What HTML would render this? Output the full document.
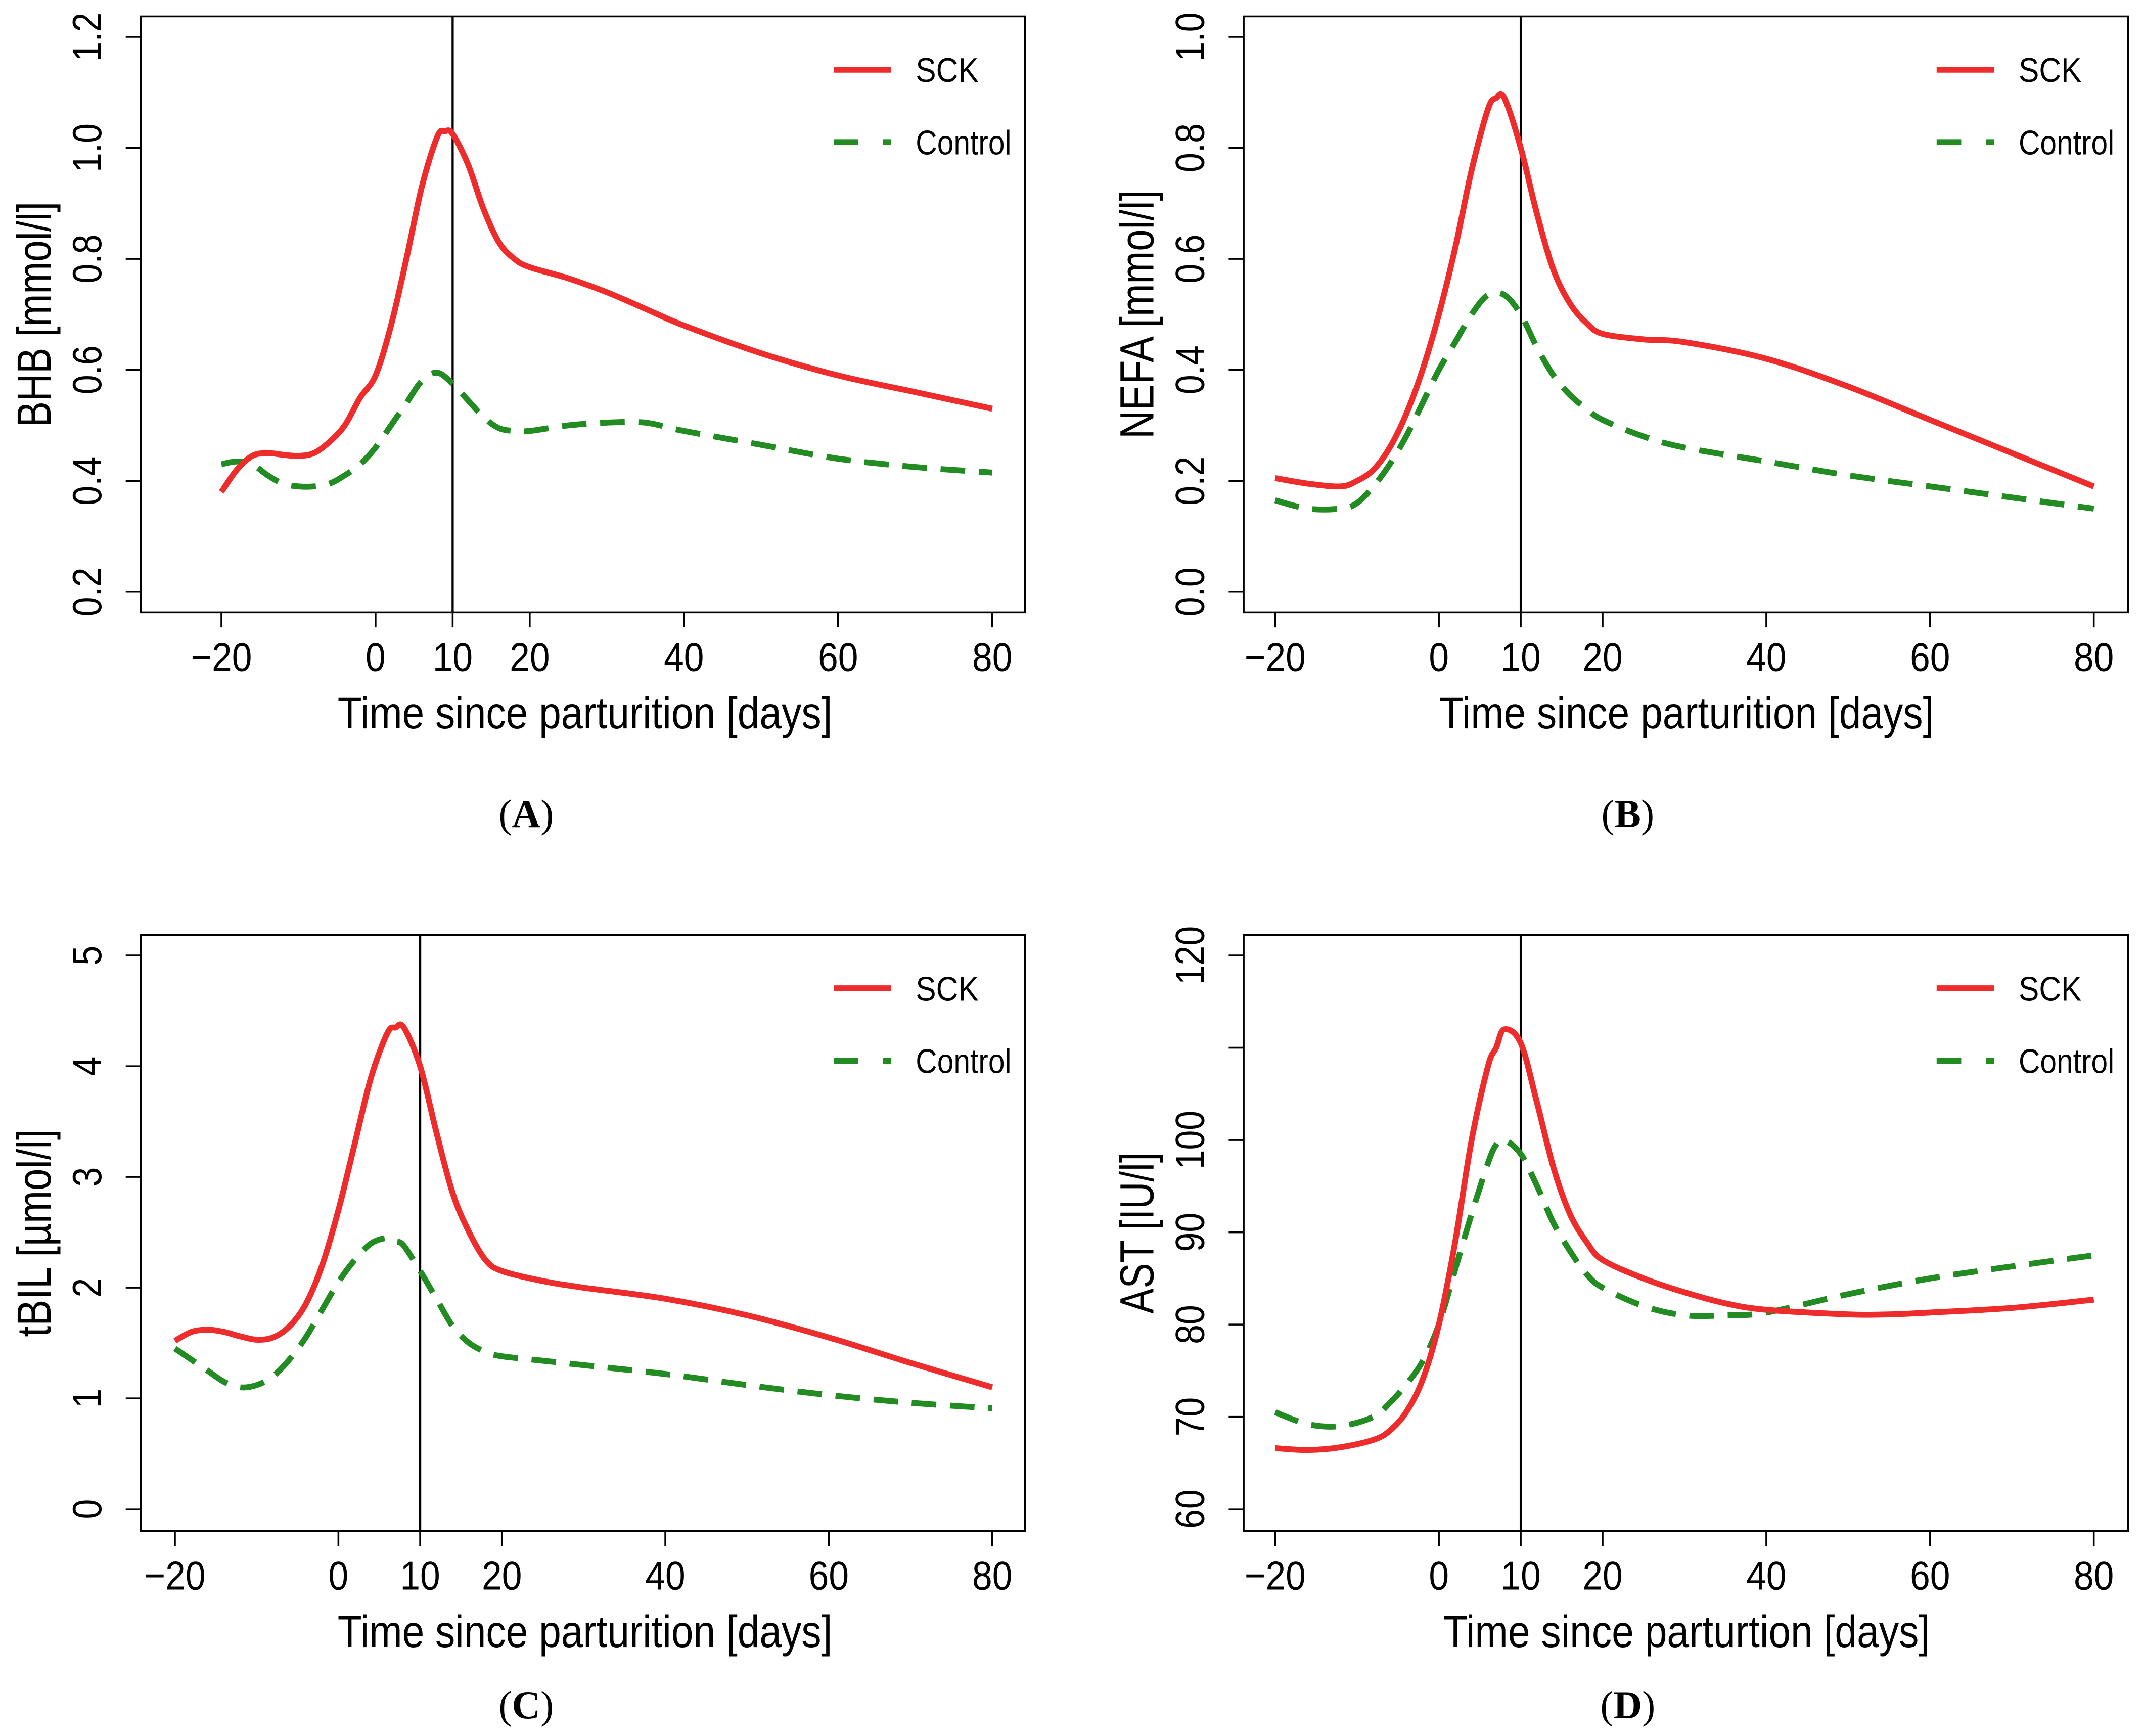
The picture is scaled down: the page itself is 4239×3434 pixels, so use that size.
<!DOCTYPE html>
<html><head><meta charset="utf-8"><style>html,body{margin:0;padding:0;background:#fff}svg{display:block}</style></head>
<body>
<svg id="fig" width="4239" height="3434" viewBox="0 0 1568 1270" preserveAspectRatio="none" xmlns="http://www.w3.org/2000/svg"></svg>
<script>
// Panel A: BHB
const aDaysS=[-20,-18,-16,-14,-12,-10,-8,-6,-4,-2,0,2,4,6,8,9,10,12,14,16,18,20,25,30,35,40,50,60,70,80];
const aSCK=[0.38,0.42,0.445,0.45,0.447,0.445,0.45,0.47,0.50,0.55,0.59,0.68,0.80,0.93,1.02,1.03,1.025,0.97,0.89,0.83,0.80,0.785,0.765,0.74,0.71,0.68,0.63,0.59,0.56,0.53];
const aDaysC=[-20,-18,-16,-14,-12,-10,-8,-6,-4,-2,0,2,4,6,8,10,12,14,16,18,20,25,30,35,40,50,60,70,80];
const aCtrl=[0.43,0.435,0.43,0.41,0.395,0.39,0.39,0.395,0.41,0.43,0.46,0.50,0.54,0.58,0.595,0.575,0.545,0.515,0.495,0.49,0.49,0.50,0.505,0.505,0.49,0.465,0.44,0.425,0.415];
const aYTicks=["0.2","0.4","0.6","0.8","1.0","1.2"];
// Panel B: NEFA
const bDaysS=[-20,-16,-12,-10,-8,-6,-4,-2,0,2,4,6,7,8,10,12,14,16,18,20,25,30,40,50,60,70,80];
const bSCK=[0.205,0.195,0.19,0.20,0.22,0.26,0.32,0.40,0.50,0.62,0.76,0.87,0.89,0.89,0.80,0.68,0.58,0.52,0.485,0.465,0.455,0.45,0.42,0.37,0.31,0.25,0.19];
const bDaysC=[-20,-16,-12,-10,-8,-6,-4,-2,0,2,4,6,8,10,12,14,16,18,20,25,30,40,50,60,70,80];
const bCtrl=[0.165,0.15,0.15,0.16,0.19,0.23,0.28,0.34,0.40,0.45,0.50,0.535,0.535,0.50,0.44,0.39,0.355,0.33,0.31,0.28,0.26,0.235,0.21,0.19,0.17,0.15];
const bYTicks=["0.0","0.2","0.4","0.6","0.8","1.0"];
// Panel C: tBIL
const cDaysS=[-20,-18,-16,-14,-12,-10,-8,-6,-4,-2,0,2,4,6,7,8,10,12,14,16,18,20,25,30,40,50,60,70,80];
const cSCK=[1.52,1.6,1.62,1.6,1.56,1.53,1.55,1.65,1.85,2.2,2.7,3.3,3.9,4.3,4.35,4.35,4.0,3.4,2.85,2.5,2.25,2.15,2.06,2.0,1.9,1.75,1.55,1.32,1.1];
const cDaysC=[-20,-18,-16,-14,-12,-10,-8,-6,-4,-2,0,2,4,6,7,8,10,12,14,16,18,20,25,30,40,50,60,70,80];
const cCtrl=[1.45,1.35,1.25,1.15,1.1,1.12,1.2,1.35,1.55,1.8,2.05,2.25,2.4,2.45,2.42,2.38,2.15,1.9,1.65,1.5,1.42,1.38,1.34,1.3,1.22,1.12,1.03,0.96,0.91];
const cYTicks=["0","1","2","3","4","5"];
// Panel D: AST
const dDaysS=[-20,-16,-12,-8,-6,-4,-2,0,2,4,6,7,8,10,12,14,16,18,20,25,30,35,40,50,55,60,70,80];
const dSCK=[66.6,66.4,66.7,67.5,68.5,70.5,74,80,89,100,108,110,112,110.5,104,97,92,89,87,85,83.5,82.3,81.6,81.1,81.1,81.3,81.8,82.7];
const dDaysC=[-20,-16,-12,-8,-6,-4,-2,0,2,4,6,7,8,10,12,14,16,18,20,25,30,35,40,50,60,70,80];
const dCtrl=[70.5,69.2,69.0,70,71.5,73.5,76,80,86,92,97.5,99.5,100,98.5,95,91,88,85.5,84,82,81,81,81.3,83.3,85,86.3,87.5];
const dYTicks=["60","70","80","90","100","110","120"];
const dYLabelsShown=["60","70","80","90","100","","120"];
const xTicks=[-20,0,10,20,40,60,80];

const NS="http://www.w3.org/2000/svg";
const svg=document.getElementById('fig');
function el(tag,attrs,parent){const e=document.createElementNS(NS,tag);for(const k in attrs)e.setAttribute(k,attrs[k]);(parent||svg).appendChild(e);return e;}
function smooth(pts){let d=`M${pts[0][0]},${pts[0][1]}`;for(let i=0;i<pts.length-1;i++){const p0=pts[Math.max(i-1,0)],p1=pts[i],p2=pts[i+1],p3=pts[Math.min(i+2,pts.length-1)];const c1x=p1[0]+(p2[0]-p0[0])/6,c1y=p1[1]+(p2[1]-p0[1])/6,c2x=p2[0]-(p3[0]-p1[0])/6,c2y=p2[1]-(p3[1]-p1[1])/6;d+=` C${c1x},${c1y} ${c2x},${c2y} ${p2[0]},${p2[1]}`;}return d;}
const FS='Liberation Sans, sans-serif';
function panel(o){
  const g=el('g',{});
  
  
  const xs=d=>o.x0+(d+20)*(o.x80-o.x0)/100;
  const ys=v=>o.yb-(v-o.vmin)*(o.yb-o.yt)/(o.vmax-o.vmin);
  const box=el('rect',{x:o.L,y:o.T,width:o.R-o.L,height:o.B-o.T,fill:'none',stroke:'#000','stroke-width':1.3},g);
  
  xTicks.forEach(t=>{const X=xs(t);
    el('line',{x1:X,y1:o.B,x2:X,y2:o.B+11,stroke:'#000','stroke-width':1.3},g);
    const tx=el('text',{x:0,y:0,transform:`translate(${X},${o.B+43}) scale(0.88,1)`,'text-anchor':'middle','font-size':30,'font-family':FS},g);
    tx.textContent=(t<0?'\u2212'+(-t):t);
    
  });
  o.ticks.forEach((t,i)=>{const Y=ys(parseFloat(t));
    el('line',{x1:o.L,y1:Y,x2:o.L-11,y2:Y,stroke:'#000','stroke-width':1.3},g);
    const lab=o.shown?o.shown[i]:t; if(!lab)return;
    const tx=el('text',{x:0,y:0,transform:`translate(${o.L-29},${Y}) rotate(-90) scale(0.86,1)`,'text-anchor':'middle','font-size':30,'font-family':FS},g);
    tx.textContent=lab;
  });
  const yt=el('text',{x:0,y:0,transform:`translate(${o.L-66},${(o.T+o.B)/2}) rotate(-90)`,'text-anchor':'middle','font-size':35,'font-family':FS,'textLength':o.ytl,'lengthAdjust':'spacingAndGlyphs'},g);
  yt.textContent=o.ytitle;
  const xt=el('text',{x:o.xtx,y:o.B+85,'text-anchor':'middle','font-size':33,'font-family':FS,'textLength':o.xtl,'lengthAdjust':'spacingAndGlyphs'},g);
  xt.textContent=o.xtitle;
  const pl=el('text',{x:o.px,y:o.py,'text-anchor':'middle','font-size':29,'font-family':'Liberation Serif, serif'},g);
  pl.innerHTML='(<tspan font-weight="bold">'+o.letter+'</tspan>)';
  const vl=el('line',{x1:xs(10),y1:o.T,x2:xs(10),y2:o.B,stroke:'#000','stroke-width':1.6},g);
  
  const pc=el('path',{d:smooth(o.dc.map((d,i)=>[xs(d),ys(o.vc[i])])),fill:'none',stroke:'#228b22','stroke-width':4.3,'stroke-dasharray':'18 10'},g);
  
  const ps=el('path',{d:smooth(o.ds.map((d,i)=>[xs(d),ys(o.vs[i])])),fill:'none',stroke:'#ee2c2c','stroke-width':4.3},g);
  
  const lx=o.R-140,ly=o.T+39;
  const l1=el('line',{x1:lx,y1:ly,x2:lx+42,y2:ly,stroke:'#ee2c2c','stroke-width':4.3},g);
  
  const t1=el('text',{x:lx+60,y:ly+9,'font-size':25,'font-family':FS,'textLength':46,'lengthAdjust':'spacingAndGlyphs'},g);t1.textContent='SCK';
  
  const l2=el('line',{x1:lx,y1:ly+53,x2:lx+44,y2:ly+53,stroke:'#228b22','stroke-width':4.3,'stroke-dasharray':'18 18 6 30'},g);
  
  const t2=el('text',{x:lx+60,y:ly+62,'font-size':25,'font-family':FS,'textLength':70,'lengthAdjust':'spacingAndGlyphs'},g);t2.textContent='Control';
  
}
panel({name:'panel-a-bhb',letter:'A',px:385,py:605,xtx:428,xtl:362,ytl:165,L:103,R:750,T:12,B:448,x0:162,x80:726,yb:433,yt:27,vmin:0.2,vmax:1.2,ticks:aYTicks,ytitle:'BHB [mmol/l]',xtitle:'Time since parturition [days]',ds:aDaysS,vs:aSCK,dc:aDaysC,vc:aCtrl});
panel({name:'panel-b-nefa',letter:'B',px:1191,py:605,xtx:1234,xtl:362,ytl:182,L:910,R:1557,T:12,B:448,x0:933,x80:1532,yb:433,yt:27,vmin:0,vmax:1.0,ticks:bYTicks,ytitle:'NEFA [mmol/l]',xtitle:'Time since parturition [days]',ds:bDaysS,vs:bSCK,dc:bDaysC,vc:bCtrl});
panel({name:'panel-c-tbil',letter:'C',px:385,py:1257,xtx:428,xtl:362,ytl:152,L:103,R:750,T:684,B:1120,x0:128,x80:726,yb:1104,yt:699,vmin:0,vmax:5,ticks:cYTicks,ytitle:'tBIL [\u00b5mol/l]',xtitle:'Time since parturition [days]',ds:cDaysS,vs:cSCK,dc:cDaysC,vc:cCtrl});
panel({name:'panel-d-ast',letter:'D',px:1191,py:1257,xtx:1234,xtl:356,ytl:118,L:910,R:1557,T:684,B:1120,x0:933,x80:1532,yb:1104,yt:699,vmin:60,vmax:120,ticks:dYTicks,shown:dYLabelsShown,ytitle:'AST [IU/l]',xtitle:'Time since parturtion [days]',ds:dDaysS,vs:dSCK,dc:dDaysC,vc:dCtrl});
</script>
</body></html>
